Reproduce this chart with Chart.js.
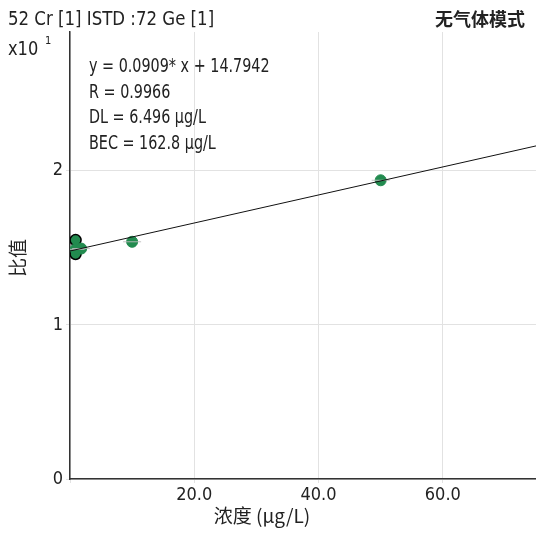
<!DOCTYPE html>
<html>
<head>
<meta charset="utf-8">
<script src="https://cdn.jsdelivr.net/npm/chart.js@4"></script>
<style>
  html, body { margin: 0; padding: 0; background: #fff; }
  #wrap { width: 536px; height: 533px; position: relative; }
</style>
</head>
<body>
<div id="wrap"><canvas id="chart" width="536" height="533"></canvas></div>
<script>
// calibration standards (concentration ug/L, ratio)
const stdConc = [0.9, 1.8, 10.0, 50.0];
const stdRatio = [14.9, 14.95, 15.39, 19.38];
// standards drawn with black outline (partly hidden near origin)
const blankConc = [0.9, 0.9];
const blankRatio = [15.5, 14.6];
// fitted line endpoints
const fitX = [0, 75];
const fitY = [14.79, 21.61];
const fitText = ["y = 0.0909* x + 14.7942", "R = 0.9966", "DL = 6.496 \u00b5g/L", "BEC = 162.8 \u00b5g/L"];

const FONT = "'Liberation Sans Narrow', 'DejaVu Sans Condensed', 'Roboto', sans-serif";
const GREEN = '#228b4f';

const toXY = (xs, ys) => xs.map((x, i) => ({ x: x, y: ys[i] }));

// draw text squeezed horizontally, like the condensed font of the original
function narrowText(ctx, text, x, y, size, sx) {
  ctx.save();
  ctx.font = size + "px " + FONT;
  ctx.translate(x, y);
  ctx.scale(sx, 1);
  ctx.fillText(text, 0, 0);
  ctx.restore();
}

const textPlugin = {
  id: 'labels',
  afterDraw(chart) {
    const ctx = chart.ctx;
    ctx.save();
    ctx.fillStyle = '#222';
    ctx.textBaseline = 'alphabetic';
    ctx.textAlign = 'left';
    narrowText(ctx, "52 Cr [1] ISTD :72 Ge [1]", 8, 25, 19, 0.97);
    narrowText(ctx, "x10", 8, 55, 19, 0.95);
    narrowText(ctx, "1", 45, 44, 11, 1);

    ctx.font = "bold 18px 'Noto Sans CJK SC', sans-serif";
    ctx.textAlign = 'right';
    ctx.fillText("无气体模式", 525, 26);

    ctx.textAlign = 'left';
    fitText.forEach((t, i) => narrowText(ctx, t, 89, 72 + i * 25.5, 19, 0.84));

    ctx.textAlign = 'center';
    ctx.font = "19px 'Noto Sans CJK SC', " + FONT;
    ctx.fillText("浓度 (µg/L)", 262, 523);

    ctx.translate(19, 258);
    ctx.rotate(-Math.PI / 2);
    ctx.fillText("比值", 0, 6);
    ctx.restore();
  }
};

new Chart(document.getElementById('chart'), {
  type: 'scatter',
  data: {
    datasets: [
      {
        type: 'line',
        data: toXY(fitX, fitY),
        borderColor: '#111',
        borderWidth: 1,
        pointRadius: 0,
        order: 0
      },
      {
        data: toXY(stdConc, stdRatio),
        pointStyle: 'line',
        pointRadius: 9,
        borderColor: 'rgba(190,190,190,0.9)',
        borderWidth: 1,
        order: 1
      },
      {
        data: toXY(stdConc, stdRatio),
        pointRadius: 5.5,
        backgroundColor: GREEN,
        borderColor: GREEN,
        borderWidth: 1,
        order: 2
      },
      {
        data: toXY(blankConc, blankRatio),
        pointRadius: 5.5,
        backgroundColor: GREEN,
        borderColor: '#000',
        borderWidth: 1.5,
        order: 3
      }
    ]
  },
  options: {
    responsive: false,
    animation: false,
    // no extra room for point radius, plot runs to the right edge
    layout: { autoPadding: false, padding: { left: 0, right: 0, top: 32, bottom: 0 } },
    plugins: {
      legend: { display: false },
      tooltip: { enabled: false }
    },
    scales: {
      x: {
        type: 'linear',
        min: 0,
        max: 75,
        afterFit: s => { s.height = 54; s.paddingLeft = 0; s.paddingRight = 0; },
        afterBuildTicks: s => { s.ticks = s.ticks.filter(t => t.value % 20 === 0); },
        ticks: {
          stepSize: 20,
          color: '#222',
          font: { family: FONT, size: 18 },
          padding: 2,
          maxRotation: 0,
          callback: v => v === 0 ? '' : v.toFixed(1)
        },
        grid: { color: '#e2e2e2', tickLength: 4, drawTicks: true },
        border: { color: '#333', width: 1.5 }
      },
      y: {
        min: 0,
        max: 29,
        afterFit: s => { s.width = 70; s.paddingTop = 0; s.paddingBottom = 0; },
        afterBuildTicks: s => { s.ticks = s.ticks.filter(t => t.value % 10 === 0); },
        ticks: {
          stepSize: 10,
          color: '#222',
          font: { family: FONT, size: 18 },
          padding: 3,
          callback: v => String(v / 10)
        },
        grid: { color: '#e2e2e2', tickLength: 4 },
        border: { color: '#333', width: 1.5 }
      }
    }
  },
  plugins: [textPlugin]
});
</script>
</body>
</html>
